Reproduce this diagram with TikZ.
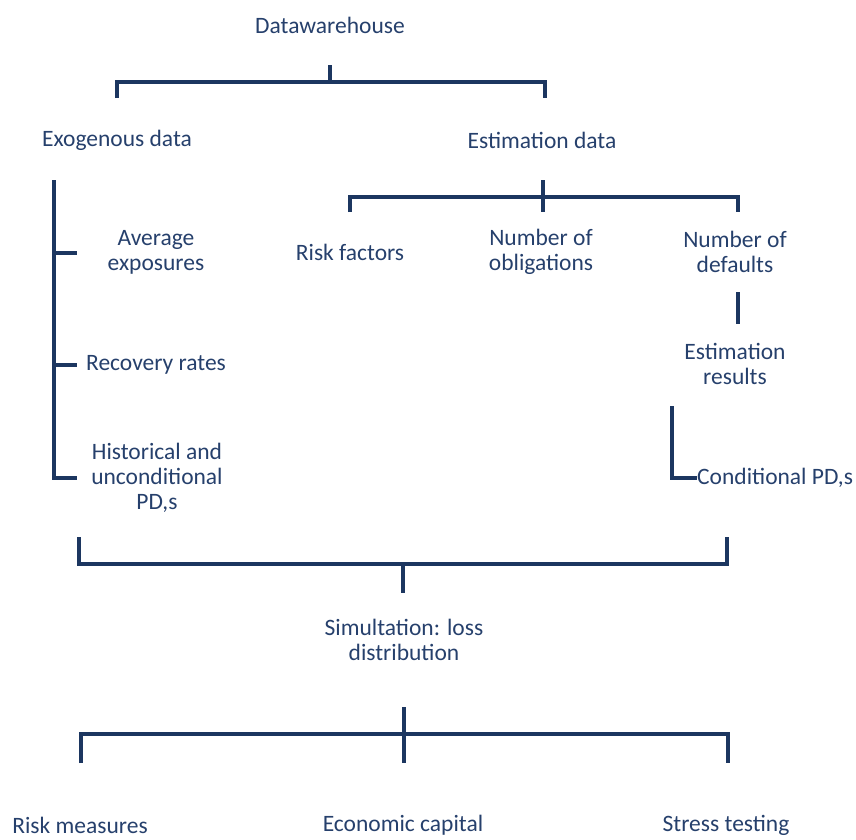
\documentclass[tikz,border=0pt]{standalone}
\usepackage{fontspec}
\setmainfont{Carlito}
\definecolor{navyline}{RGB}{28,54,96}
\definecolor{navytext}{RGB}{38,64,108}
\tikzset{
  lbl/.style={inner sep=0pt,align=center,text=navytext,font=\fontsize{23.5}{25}\selectfont},
  brk/.style={draw=navyline,line width=4pt,line join=miter,line cap=butt}
}
\begin{document}
\begin{tikzpicture}[x=1pt,y=-1pt]
\useasboundingbox (0,0) rectangle (856,839);
% texts
\node[lbl] (dw) at (330,25) {Datawarehouse};
\node[lbl] (exo) at (117,140) {Exogenous data};
\node[lbl] (est) at (542,140) {Estimation data};
\node[lbl] (avg) at (156,252) {Average\\exposures};
\node[lbl] (rec) at (156,365) {Recovery rates};
\node[lbl] (hist) at (157,478) {Historical and\\unconditional\\PD,s};
\node[lbl] (risk) at (350,252) {Risk factors};
\node[lbl] (nobl) at (541,252) {Number of\\obligations};
\node[lbl] (ndef) at (735,252) {Number of\\defaults};
\node[lbl] (estres) at (735,364) {Estimation\\results};
\node[lbl,anchor=west] (cond) at (697,478) {Conditional PD,s};
\node[lbl] (sim) at (404,640) {Simultation: loss\\distribution};
\node[lbl] (rmeas) at (80,825) {Risk measures};
\node[lbl] (ecap) at (403,825) {Economic capital};
\node[lbl] (stress) at (726,825) {Stress testing};
% bracket points
\coordinate (dw-s) at (330,65);
\coordinate (exo-n) at (117,98);
\coordinate (est-n) at (545,98);
\coordinate (est-s) at (543,180);
\coordinate (risk-n) at (350,212);
\coordinate (nobl-n) at (543,212);
\coordinate (ndef-n) at (738,212);
\coordinate (exo-s) at (54,180);
\coordinate (avg-w) at (77,253);
\coordinate (rec-w) at (77,365);
\coordinate (hist-w) at (77,478);
\coordinate (ndef-s) at (738,292);
\coordinate (estres-s) at (738,324);
\coordinate (cond-top) at (672,406);
\coordinate (hist-s) at (79,537);
\coordinate (cond-s) at (727,537);
\coordinate (sim-n) at (403,593);
\coordinate (sim-s) at (404,707);
\coordinate (rmeas-n) at (81,763);
\coordinate (ecap-n) at (404,763);
\coordinate (stress-n) at (728,763);
% brackets
\draw[brk] (exo-n) |- (dw-s |- 0,82) -| (est-n);
\draw[brk] (dw-s) -- (dw-s |- 0,82);
\draw[brk] (risk-n) |- (est-s |- 0,197) -| (ndef-n);
\draw[brk] (est-s) -- (nobl-n);
\draw[brk] (exo-s) |- (hist-w);
\draw[brk] (exo-s |- avg-w) -- (avg-w);
\draw[brk] (exo-s |- rec-w) -- (rec-w);
\draw[brk] (ndef-s) -- (estres-s);
\draw[brk] (cond-top) |- (cond.west);
\draw[brk] (hist-s) |- (sim-n |- 0,564) -| (cond-s);
\draw[brk] (sim-n |- 0,564) -- (sim-n);
\draw[brk] (rmeas-n) |- (sim-s |- 0,734) -| (stress-n);
\draw[brk] (sim-s) -- (ecap-n);
\end{tikzpicture}
\end{document}
